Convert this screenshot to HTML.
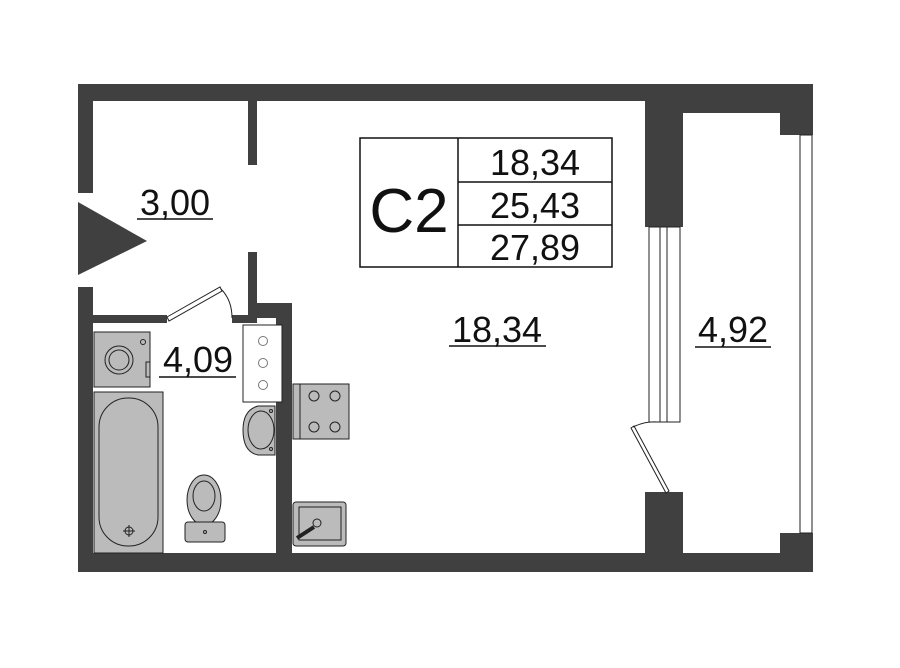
<!DOCTYPE html>
<html><head><meta charset="utf-8"><style>
html,body{margin:0;padding:0;background:#fff;}
svg{display:block;}
text{font-family:"Liberation Sans",sans-serif;fill:#111;}
</style></head><body>
<svg width="900" height="668" viewBox="0 0 900 668" xmlns="http://www.w3.org/2000/svg">
<g fill="#404040">
<!-- outer top -->
<rect x="78" y="84" width="735" height="17"/>
<!-- left outer wall -->
<rect x="78" y="84" width="15" height="109"/>
<rect x="78" y="287" width="15" height="285"/>
<!-- bottom -->
<rect x="78" y="553" width="735" height="19"/>
<!-- hall/room partition -->
<rect x="248" y="101" width="9" height="64"/>
<rect x="248" y="252" width="9" height="71"/>
<!-- bathroom top wall -->
<rect x="93" y="315" width="74" height="8"/>
<rect x="232" y="315" width="25" height="8"/>
<!-- bathroom/kitchen wall -->
<rect x="248" y="303" width="44" height="15"/>
<rect x="276" y="303" width="16" height="269"/>
<!-- pillars -->
<rect x="645" y="84" width="38" height="143"/>
<rect x="645" y="492" width="38" height="80"/>
<!-- balcony corners -->
<rect x="683" y="84" width="130" height="29"/>
<rect x="780" y="84" width="33" height="51"/>
<rect x="780" y="533" width="33" height="39"/>
<rect x="683" y="555" width="130" height="17"/>
</g>
<!-- entrance triangle -->
<polygon points="78,202 147,241 78,275" fill="#404040"/>
<!-- bathroom door -->
<polygon points="167,317 220,287 222,291 169,321" fill="#fff" stroke="#222" stroke-width="1"/>
<path d="M221,289 Q232,300 232,318" fill="none" stroke="#222" stroke-width="1"/>
<!-- window between room and balcony -->
<g fill="#fff" stroke="#222" stroke-width="1">
<rect x="649" y="227" width="31" height="195"/>
</g>
<line x1="660" y1="227" x2="660" y2="422" stroke="#222"/>
<line x1="667" y1="227" x2="667" y2="422" stroke="#222"/>
<!-- balcony door -->
<polygon points="631,428 634,426 669,491 666,493" fill="#fff" stroke="#222"/>
<path d="M633,427 Q645,421 658,422" fill="none" stroke="#222"/>
<!-- right window -->
<rect x="800" y="135" width="12" height="398" fill="#fff" stroke="#222"/>
<!-- table -->
<g fill="none" stroke="#111" stroke-width="1.5">
<rect x="360" y="138" width="252" height="129"/>
<line x1="458" y1="138" x2="458" y2="267"/>
<line x1="458" y1="182" x2="612" y2="182"/>
<line x1="458" y1="225" x2="612" y2="225"/>
</g>
<text x="409" y="232" font-size="62" text-anchor="middle">C2</text>
<text x="535" y="175" font-size="36" text-anchor="middle">18,34</text>
<text x="535" y="218" font-size="36" text-anchor="middle">25,43</text>
<text x="535" y="260" font-size="36" text-anchor="middle">27,89</text>
<!-- room labels -->
<text x="175" y="215" font-size="36" text-anchor="middle">3,00</text>
<line x1="137" y1="219" x2="213" y2="219" stroke="#111" stroke-width="1.5"/>
<text x="198" y="372" font-size="36" text-anchor="middle">4,09</text>
<line x1="159" y1="377" x2="236" y2="377" stroke="#111" stroke-width="1.5"/>
<text x="497" y="342" font-size="36" text-anchor="middle">18,34</text>
<line x1="449" y1="346" x2="546" y2="346" stroke="#111" stroke-width="1.5"/>
<text x="733" y="342" font-size="36" text-anchor="middle">4,92</text>
<line x1="695" y1="347" x2="771" y2="347" stroke="#111" stroke-width="1.5"/>
<!-- fixtures -->
<g stroke="#222" stroke-width="1">
<!-- washer -->
<rect x="94" y="332" width="56" height="55" fill="#bbb"/>
<circle cx="119" cy="360" r="14" fill="#bbb"/>
<circle cx="119" cy="360" r="10" fill="#bbb"/>
<circle cx="143" cy="342" r="2.5" fill="#bbb"/>
<rect x="146" y="362" width="4" height="15" fill="#bbb"/>
<!-- bath -->
<rect x="94" y="392" width="69" height="161" fill="#bbb"/>
<rect x="99" y="398" width="59" height="148" rx="29" fill="#bbb"/>
<circle cx="129" cy="531" r="4" fill="none"/>
<line x1="123" y1="531" x2="135" y2="531"/><line x1="129" y1="525" x2="129" y2="537"/>
<!-- toilet -->
<ellipse cx="204" cy="500" rx="17" ry="25" fill="#bbb"/>
<ellipse cx="204" cy="496" rx="11" ry="15" fill="#bbb"/>
<rect x="185" y="522" width="40" height="20" rx="3" fill="#bbb"/>
<circle cx="205" cy="532" r="1.5" fill="none"/>
<!-- counter -->
<rect x="243" y="325" width="39" height="77" fill="#fff"/>
<circle cx="263" cy="341" r="4.5" fill="#fff" stroke="#777"/>
<circle cx="263" cy="363" r="4.5" fill="#fff" stroke="#777"/>
<circle cx="263" cy="385" r="4.5" fill="#fff" stroke="#777"/>
<!-- basin -->
<path d="M275,406 L258,406 Q243,410 243,430 Q243,452 258,455 L275,455 Z" fill="#bbb"/>
<ellipse cx="261" cy="430" rx="13" ry="19" fill="#bbb"/>
<circle cx="271" cy="411" r="1.5" fill="none"/><circle cx="271" cy="449" r="1.5" fill="none"/>
<!-- stove -->
<rect x="293" y="384" width="56" height="55" fill="#bbb"/>
<line x1="300" y1="384" x2="300" y2="439"/>
<circle cx="314" cy="396" r="5" fill="none"/><circle cx="335" cy="396" r="5" fill="none"/>
<circle cx="314" cy="427" r="5" fill="none"/><circle cx="335" cy="427" r="5" fill="none"/>
<!-- kitchen sink -->
<rect x="293" y="502" width="53" height="44" rx="3" fill="#bbb"/>
<rect x="299" y="507" width="42" height="33" fill="#bbb"/>
<circle cx="317" cy="523" r="4" fill="#bbb"/>
<line x1="314" y1="527" x2="297" y2="538" stroke-width="4"/>
</g>
</svg>
</body></html>
